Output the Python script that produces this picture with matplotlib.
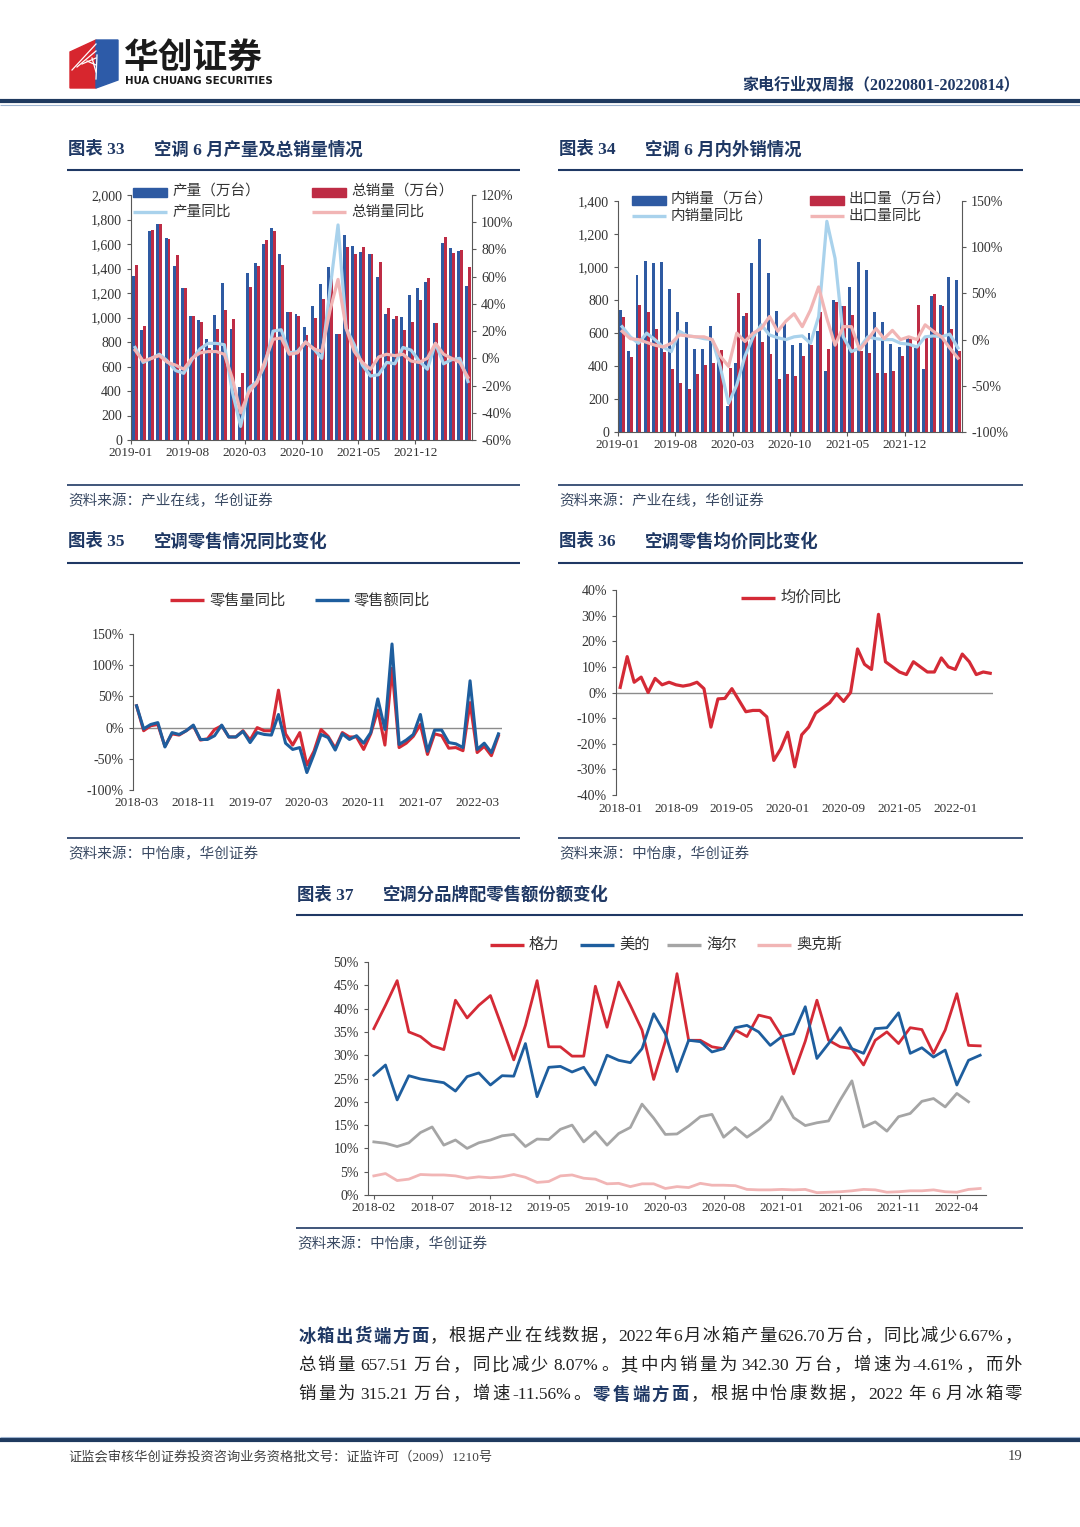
import numpy as np
import matplotlib
matplotlib.use('Agg')
import matplotlib.pyplot as plt
from matplotlib.patches import Rectangle, Polygon

plt.rcParams['font.family'] = ['Liberation Serif', 'Noto Sans CJK SC']
plt.rcParams['axes.unicode_minus'] = False

# ---------------- data ----------------
# 图表33 空调产量 / 总销量 (万台), 2019-01 .. 2022-06
prod = [1341, 898, 1706, 1766, 1652, 1420, 1243, 1015, 980, 822, 1023, 1282, 903, 430,
        1361, 1442, 1600, 1728, 1518, 1048, 1026, 925, 1097, 1271, 1415, 865, 1673, 1584,
        1537, 1518, 1333, 1026, 990, 1007, 1183, 1243, 1292, 958, 1605, 1565, 1543, 1257]
sales = [1429, 933, 1714, 1760, 1643, 1507, 1238, 1015, 960, 748, 909, 1061, 985, 544,
         1252, 1423, 1633, 1709, 1429, 1042, 1012, 857, 993, 1148, 1340, 865, 1578, 1518,
         1578, 1518, 1455, 1080, 1015, 898, 966, 1143, 1320, 958, 1654, 1529, 1551, 1410]
prod_yoy = [8, -3, 0, 3, -2, -9, -11, -1, 7, 11, 11, 10, -25, -50, -22, -17, -5, 20, 21, 4, 5,
            12, 7, 0, 50, 98, 22, 10, -5, -13, -12, -3, -4, 8, 6, -2, -8, 11, -4, -1, 0, -17]
sales_yoy = [6, -2, 0, 2, -3, -5, -8, 0, 4, 5, 5, 3, -15, -40, -25, -18, -2, 14, 15, 3, 4,
             12, 7, 5, 35, 58, 22, 5, -3, -8, 1, 3, 2, 3, -2, -3, 0, 11, 3, 0, -3, -14]
ticks_a = ['2019-01', '2019-08', '2020-03', '2020-10', '2021-05', '2021-12']

# 图表34 内销量 / 出口量 (万台)
dom = [740, 490, 952, 1037, 1027, 1033, 865, 726, 666, 504, 504, 645, 480, 160, 421, 704,
       1027, 1168, 962, 734, 660, 528, 538, 603, 612, 367, 800, 764, 877, 1033, 982, 726,
       664, 535, 514, 575, 510, 381, 825, 770, 938, 922]
exp = [700, 452, 770, 730, 625, 482, 381, 300, 262, 350, 407, 421, 495, 387, 841, 724, 609,
       543, 472, 321, 351, 337, 458, 528, 725, 502, 785, 764, 710, 488, 478, 357, 357, 367,
       458, 565, 770, 569, 835, 764, 623, 492]
dom_yoy = [14, 3, -4, 7, 0, -8, -13, 9, 4, 3, 1, 0, -30, -69, -49, -18, 3, 16, 5, 2, 0, 3, 4,
           -4, 25, 128, 88, 3, -13, -9, 3, 1, 0, 0, -4, -5, -8, 3, 4, 3, 6, -9]
exp_yoy = [9, 1, 0, -3, -6, -8, -4, 5, 4, 3, 3, 0, -18, -29, 7, -2, 7, 12, 25, 9, 20, 28, 14,
           32, 57, 23, -6, 14, 14, -11, 0, 12, 1, 10, 0, 3, 0, 16, 9, 3, -9, -20]

# 图表35 零售量同比 / 零售额同比 (%), 2018-03 .. 2022-06
vol_yoy = [35, -5, 3, 5, -30, -10, -12, -5, 3, -20, -18, -3, 3, -15, -15, -5, -20, 0, -5, -5,
           60, -10, -28, -8, -60, -38, -3, -14, -33, -8, -15, -15, -35, -10, 28, -28, 95, -32,
           -25, -14, 5, -43, -10, -13, -33, -32, -37, 40, -40, -30, -45, -13]
amt_yoy = [35, -2, 5, 8, -31, -8, -11, -5, 4, -19, -19, -13, 4, -15, -15, -6, -24, -8, -11, -12,
           21, -25, -35, -32, -72, -43, -11, -16, -36, -10, -19, -13, -25, -8, 46, -3, 134, -27,
           -20, -11, 21, -38, -4, -4, -24, -26, -32, 75, -35, -25, -40, -10]
ticks_35 = ['2018-03', '2018-11', '2019-07', '2020-03', '2020-11', '2021-07', '2022-03']

# 图表36 均价同比 (%), 2018-01 .. 2022-06
price_yoy = [2, 14, 4, 6, 0, 5.5, 3, 4, 3, 2.5, 3, 4, 1.5, -13.5, -2.5, -2.3, 1.5, -3, -7.5, -7,
             -7, -9.5, -26.5, -22, -15.5, -29, -16.5, -13.5, -8, -6, -4, -0.5, -3.5, 0, 17, 11,
             9, 30.5, 12, 10, 8, 7, 12, 10, 8, 8, 13.5, 10, 9, 15, 12, 7, 8, 7.5]
ticks_36 = ['2018-01', '2018-09', '2019-05', '2020-01', '2020-09', '2021-05', '2022-01']

# 图表37 分品牌零售额份额 (%), 2018-02 .. 2022-06
gree = [35.7, 40.7, 46, 35, 34, 32, 31.2, 41.8, 38, 40.7, 42.8, 36, 29, 36.4, 46, 31.8, 31.8,
        29.8, 29.8, 44.8, 36, 45.7, 40.7, 35.4, 24.8, 33, 47.5, 33.2, 33.2, 31.8, 31.4, 35.4,
        34, 38.6, 38, 34, 26, 33, 41.8, 33.2, 31.8, 31.4, 27.9, 33.2, 35, 32.5, 35.9, 35.5,
        30.4, 35.4, 43.2, 32.1, 32]
midea = [25.7, 27.9, 20.4, 25.6, 24.9, 24.5, 24.1, 22.3, 25.4, 26.2, 23.6, 25.6, 25.5, 32.5,
         21.1, 27.4, 27.6, 26.4, 27.4, 23.6, 30, 28.9, 28.4, 31.4, 38.9, 34.6, 26.5, 33.2,
         32.9, 30.7, 31.4, 35.9, 36.4, 35, 32.1, 34, 34.6, 40.4, 29.3, 32.5, 35.9, 31.4, 30.4,
         35.7, 35.9, 39.1, 30.4, 31.6, 29.6, 31.1, 23.6, 28.9, 30]
haier = [11.4, 11.1, 10.4, 11.2, 13.4, 14.6, 10.7, 11.8, 10, 11.2, 11.8, 12.7, 13, 10.4, 12,
         11.9, 14.1, 15, 11.4, 13.6, 10.7, 13.2, 14.5, 19.5, 16.5, 13, 13.1, 14.8, 16.8, 17.3,
         12.4, 14.5, 12.4, 14.1, 16.2, 21.1, 16.6, 14.9, 15.5, 15.9, 20.4, 24.5, 14.6, 15.7,
         13.7, 16.8, 17.5, 20.1, 20.7, 18.9, 21.8, 20]
aux = [4.1, 4.6, 3.1, 3.4, 4.4, 4.3, 4.3, 4.1, 3.6, 3.9, 3.7, 3.9, 4.4, 3.8, 2.7, 2.9, 4.1, 4.3,
       3.6, 3.4, 2.4, 2.5, 1.8, 2.4, 2.4, 1.4, 1.8, 1.6, 2.5, 2.1, 2.1, 2.0, 1.2, 1.1, 1.1, 1.2,
       1.1, 1.2, 0.5, 0.6, 0.7, 0.9, 1.2, 1.1, 0.6, 0.7, 0.9, 0.9, 1.1, 0.7, 0.6, 1.2, 1.4]
ticks_37 = ['2018-02', '2018-07', '2018-12', '2019-05', '2019-10', '2020-03', '2020-08',
            '2021-01', '2021-06', '2021-11', '2022-04']

# ---------------- style ----------------
NAVY = '#1F3864'
BLUE = '#2E5AA2'
RED = '#BE2C45'
LBLUE = '#A9D2EC'
PINK = '#F1B5B5'
LRED = '#D42A36'
LBL = '#1E5E9E'
GRAY = '#A5A5A5'
TXT = '#333333'

W, H = 1080, 1527
fig = plt.figure(figsize=(W / 100, H / 100), dpi=100)


def px_axes(l, t, r, b):
    return fig.add_axes([l / W, 1 - b / H, (r - l) / W, (b - t) / H])


def style(ax):
    for s in ['top', 'right', 'left', 'bottom']:
        ax.spines[s].set_visible(False)
    ax.spines['left'].set_visible(True)
    ax.spines['left'].set_color('#595959')
    ax.tick_params(axis='both', labelsize=10, colors='#595959', labelcolor=TXT,
                   length=3, width=0.8)


# ---------------- 图表33 ----------------
x = np.arange(len(prod))
ax = px_axes(131, 195, 472, 440)
ax.bar(x - 0.18, prod, width=0.36, color=BLUE, zorder=2)
ax.bar(x + 0.18, sales, width=0.36, color=RED, zorder=2)
ax.set_xlim(-0.5, len(prod) - 0.5)
ax.set_ylim(0, 2000)
ax.set_yticks(range(0, 2001, 200))
ax.set_yticklabels([f'{v:,}' for v in range(0, 2001, 200)])
ax.set_xticks(np.arange(0, 36, 7) - 0.5)
ax.set_xticklabels(ticks_a)
style(ax)
ax.spines['bottom'].set_visible(True)
ax.spines['bottom'].set_color('#595959')
ax.tick_params(axis='x', labelsize=9.5, pad=2)
ax2 = ax.twinx()
ax2.plot(x, prod_yoy, color=LBLUE, lw=2.3, solid_joinstyle='round', zorder=3)
ax2.plot(x, sales_yoy, color=PINK, lw=2.3, solid_joinstyle='round', zorder=3)
ax2.set_ylim(-60, 120)
ax2.set_yticks(range(-60, 121, 20))
ax2.set_yticklabels([f'{v}%' for v in range(-60, 121, 20)])
for s in ['top', 'left', 'bottom']:
    ax2.spines[s].set_visible(False)
ax2.spines['right'].set_color('#595959')
ax2.tick_params(axis='y', labelsize=10, colors='#595959', labelcolor=TXT, length=3)

# ---------------- 图表34 ----------------
ax = px_axes(618, 201, 962, 432)
ax.bar(x - 0.18, dom, width=0.36, color=BLUE, zorder=2)
ax.bar(x + 0.18, exp, width=0.36, color=RED, zorder=2)
ax.set_xlim(-0.5, len(dom) - 0.5)
ax.set_ylim(0, 1400)
ax.set_yticks(range(0, 1401, 200))
ax.set_yticklabels([f'{v:,}' for v in range(0, 1401, 200)])
ax.set_xticks(np.arange(0, 36, 7) - 0.5)
ax.set_xticklabels(ticks_a)
style(ax)
ax.spines['bottom'].set_visible(True)
ax.spines['bottom'].set_color('#595959')
ax.tick_params(axis='x', labelsize=9.5, pad=2)
ax2 = ax.twinx()
ax2.plot(x, dom_yoy, color=LBLUE, lw=2.3, solid_joinstyle='round', zorder=3)
ax2.plot(x, exp_yoy, color=PINK, lw=2.3, solid_joinstyle='round', zorder=3)
ax2.set_ylim(-100, 150)
ax2.set_yticks(range(-100, 151, 50))
ax2.set_yticklabels([f'{v}%' for v in range(-100, 151, 50)])
for s in ['top', 'left', 'bottom']:
    ax2.spines[s].set_visible(False)
ax2.spines['right'].set_color('#595959')
ax2.tick_params(axis='y', labelsize=10, colors='#595959', labelcolor=TXT, length=3)

# ---------------- 图表35 ----------------
x35 = np.arange(len(vol_yoy))
ax = px_axes(133, 634, 502, 790)
ax.axhline(0, color='#8C8C8C', lw=1.0, zorder=1)
ax.plot(x35, vol_yoy, color=LRED, lw=2.2, solid_joinstyle='round', zorder=3)
ax.plot(x35, amt_yoy, color=LBL, lw=2.2, solid_joinstyle='round', zorder=3)
ax.set_xlim(-0.5, len(vol_yoy) - 0.5)
ax.set_ylim(-100, 150)
ax.set_yticks(range(-100, 151, 50))
ax.set_yticklabels([f'{v}%' for v in range(-100, 151, 50)])
ax.set_xticks(np.arange(0, 49, 8))
ax.set_xticklabels(ticks_35)
style(ax)
ax.tick_params(axis='x', length=0, labelsize=9.5, pad=5)

# ---------------- 图表36 ----------------
x36 = np.arange(len(price_yoy))
ax = px_axes(616, 590, 993, 795)
ax.axhline(0, color='#8C8C8C', lw=1.0, zorder=1)
ax.plot(x36, price_yoy, color=LRED, lw=2.3, solid_joinstyle='round', zorder=3)
ax.set_xlim(-0.6, len(price_yoy) - 0.6)
ax.set_ylim(-40, 40)
ax.set_yticks(range(-40, 41, 10))
ax.set_yticklabels([f'{v}%' for v in range(-40, 41, 10)])
ax.set_xticks(np.arange(0, 49, 8))
ax.set_xticklabels(ticks_36)
style(ax)
ax.tick_params(axis='x', length=0, labelsize=9.5, pad=6)

# ---------------- 图表37 ----------------
x37 = np.arange(len(gree))
ax = px_axes(368, 962, 986, 1195)
ax.plot(x37, gree, color=LRED, lw=2.0, solid_joinstyle='round', zorder=3)
ax.plot(x37, midea, color=LBL, lw=2.0, solid_joinstyle='round', zorder=3)
ax.plot(np.arange(len(haier)), haier, color=GRAY, lw=2.0, solid_joinstyle='round', zorder=3)
ax.plot(x37, aux, color=PINK, lw=2.0, solid_joinstyle='round', zorder=3)
ax.set_xlim(-0.5, len(gree) - 0.5)
ax.set_ylim(0, 50)
ax.set_yticks(range(0, 51, 5))
ax.set_yticklabels([f'{v}%' for v in range(0, 51, 5)])
ax.set_xticks(np.arange(0, 51, 5))
ax.set_xticklabels(ticks_37)
style(ax)
ax.spines['bottom'].set_visible(True)
ax.spines['bottom'].set_color('#595959')
ax.tick_params(axis='x', labelsize=9.5, pad=2)

# ---------------- page overlay ----------------
ov = fig.add_axes([0, 0, 1, 1], zorder=10)
ov.set_xlim(0, W)
ov.set_ylim(H, 0)
ov.axis('off')
ov.patch.set_alpha(0)

# logo
ov.add_patch(Polygon([(70, 52), (96, 40), (96, 88), (70, 88)], closed=True, color='#D7262E'))
ov.add_patch(Polygon([(96, 40), (118, 40), (118, 80), (96, 88)], closed=True, color='#2D5BA8'))
for k in range(6):
    ov.plot([72 + k * 5, 96], [60 - k * 3 + 10, 44 + k * 7], color='white', lw=0.9)
ov.text(124, 57, '华创证券', fontsize=25, fontweight='bold', color='#1A1A1A',
        family=['Noto Sans CJK SC'], va='center', ha='left')
ov.text(125, 81, 'HUA CHUANG SECURITIES', fontsize=7.4, fontweight='bold', color='#1A1A1A',
        family=['DejaVu Sans'], va='center', ha='left')
ov.text(1020, 85, '家电行业双周报（20220801-20220814）', fontsize=11.5, fontweight='bold',
        color=NAVY, va='center', ha='right')
ov.plot([0, W], [101, 101], color='#1F3A5F', lw=3.0, solid_capstyle='butt')
ov.plot([0, W], [104.5, 104.5], color='#9DB3CF', lw=0.8, solid_capstyle='butt')


def title(x0, x1, y, num, txt, yline):
    ov.text(x0 + 1, y, f'图表 {num}', fontsize=12.5, fontweight='bold', color=NAVY,
            va='center', ha='left')
    ov.text(x0 + 87, y, txt, fontsize=12.5, fontweight='bold', color=NAVY,
            va='center', ha='left')
    ov.plot([x0, x1], [yline, yline], color=NAVY, lw=1.5, solid_capstyle='butt')


def source(x0, x1, yline, txt):
    ov.plot([x0, x1], [yline, yline], color=NAVY, lw=1.2, solid_capstyle='butt')
    ov.text(x0 + 1, yline + 16, txt, fontsize=10.5, color='#3A4A63', style='italic',
            va='center', ha='left')


title(67, 520, 150, '33', '空调 6 月产量及总销量情况', 170)
title(558, 1023, 150, '34', '空调 6 月内外销情况', 170)
source(67, 520, 485, '资料来源：产业在线，华创证券')
source(558, 1023, 485, '资料来源：产业在线，华创证券')
title(67, 520, 542, '35', '空调零售情况同比变化', 563)
title(558, 1023, 542, '36', '空调零售均价同比变化', 563)
source(67, 520, 838, '资料来源：中怡康，华创证券')
source(558, 1023, 838, '资料来源：中怡康，华创证券')
title(296, 1023, 895, '37', '空调分品牌配零售额份额变化', 915)
source(296, 1023, 1228, '资料来源：中怡康，华创证券')


def leg_patch(x0, y, color, label):
    ov.add_patch(Rectangle((x0, y - 4.5), 34, 9, color=color))
    ov.text(x0 + 39, y, label, fontsize=10.5, color=TXT, va='center', ha='left')


def leg_line(x0, y, color, label, lw=2.4, length=34, size=10.5):
    ov.plot([x0, x0 + length], [y, y], color=color, lw=lw, solid_capstyle='butt')
    ov.text(x0 + length + 5, y, label, fontsize=size, color=TXT, va='center', ha='left')


leg_patch(133, 192, BLUE, '产量（万台）')
leg_patch(312, 192, RED, '总销量（万台）')
leg_line(133, 212, LBLUE, '产量同比')
leg_line(312, 212, PINK, '总销量同比')
leg_patch(632, 200, BLUE, '内销量（万台）')
leg_patch(810, 200, RED, '出口量（万台）')
leg_line(632, 216, LBLUE, '内销量同比')
leg_line(810, 216, PINK, '出口量同比')
leg_line(170, 600, LRED, '零售量同比', size=11)
leg_line(315, 600, LBL, '零售额同比', size=11)
leg_line(741, 598, LRED, '均价同比', size=11)
leg_line(490, 945, LRED, '格力', size=11)
leg_line(580, 945, LBL, '美的', size=11)
leg_line(667, 945, GRAY, '海尔', size=11)
leg_line(757, 945, PINK, '奥克斯', size=11)

# paragraph, justified: CJK chars spaced evenly, runs of Latin chars kept together
r = fig.canvas.get_renderer()
FULL = '，。：；、（）'


def tokens(s):
    out, buf = [], ''
    for ch in s:
        if ord(ch) < 128 and ch != ' ':
            buf += ch
            continue
        if buf:
            out.append(buf)
            buf = ''
        out.append(ch)
    if buf:
        out.append(buf)
    return out


def justify(y, x0, x1, parts, size=12.5):
    items = []
    for s, bold, color in parts:
        for tk in tokens(s):
            items.append((tk, bold, color))
    texts, widths = [], []
    em = size * 100 / 72
    for tk, bold, color in items:
        if tk == ' ':
            texts.append(None)
            widths.append(1.0)
            continue
        t = ov.text(0, y, tk, fontsize=size, fontweight='bold' if bold else 'normal',
                    color=color, va='center', ha='left')
        texts.append(t)
        if tk in FULL:
            widths.append(em)
        else:
            widths.append(t.get_window_extent(renderer=r).width)
    gap = (x1 - x0 - sum(widths)) / (len(items) - 1)
    xx = x0
    for t, w in zip(texts, widths):
        if t is not None:
            t.set_x(xx)
        xx += w + gap


BODY = '#222222'
justify(1337, 298, 1022, [('冰箱出货端方面', True, NAVY),
                          ('，根据产业在线数据，2022年6月冰箱产量626.70万台，同比减少6.67%，', False, BODY)])
justify(1366, 298, 1022, [('总销量 657.51 万台，同比减少 8.07%。其中内销量为 342.30 万台，增速为-4.61%，而外',
                           False, BODY)])
justify(1395, 298, 1022, [('销量为 315.21 万台，增速-11.56%。', False, BODY), ('零售端方面', True, NAVY),
                          ('，根据中怡康数据，2022 年 6 月冰箱零', False, BODY)])

# footer
ov.plot([0, W], [1440, 1440], color='#1F3A5F', lw=3.0, solid_capstyle='butt')
ov.plot([0, W], [1436.5, 1436.5], color='#9DB3CF', lw=0.8, solid_capstyle='butt')
ov.text(68, 1457, '证监会审核华创证券投资咨询业务资格批文号：证监许可（2009）1210号', fontsize=9.5,
        color='#404040', va='center', ha='left')
ov.text(1022, 1457, '19', fontsize=10.5, color='#404040', va='center', ha='right')

fig.savefig('out.png', dpi=100)
